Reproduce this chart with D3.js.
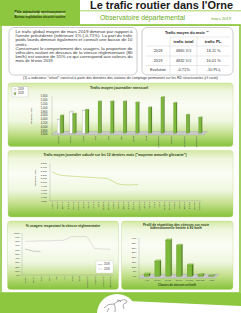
<!DOCTYPE html>
<html>
<head>
<meta charset="utf-8">
<script src="https://cdn.jsdelivr.net/npm/d3@7"></script>
<style>html,body{margin:0;padding:0;background:#fff;overflow:hidden}</style>
</head>
<body>
<div id="page"></div>
<script>
// data
let months = ["janvier", "février", "mars", "avril", "mai", "juin", "juillet", "août", "septembre", "octobre", "novembre", "décembre"];
let trafic2018 = [4563, 4652, 4865, 5300, 5300, 5300, 5250, 4990, 5530, 5230, 4600, 4460];
let trafic2019 = [4352, 4757, 4832];
let traficTicks = [3600, 3800, 4000, 4200, 4400, 4600, 4800, 5000, 5200, 5400, 5600];

let glisMonths = ["oct-17", "nov-17", "déc-17", "janv-18", "févr-18", "mars-18", "avr-18", "mai-18", "juin-18", "juil-18",
                  "août-18", "sept-18", "oct-18", "nov-18", "déc-18", "janv-19", "févr-19", "mars-19", "avr-19", "mai-19",
                  "juin-19", "juil-19", "août-19", "sept-19", "oct-19", "nov-19", "déc-19", "janv-20", "févr-20", "mars-20"];
let glisValues = [5265, 5200, 5170, 5160, 5150, 5140, 5130, 5125, 5115, 5105, 5100, 5090, 5015, 4945, 4925, 4920, 4920, 4935];
let glisTicks = [4500, 4600, 4700, 4800, 4900, 5000, 5100, 5200, 5300, 5400, 5500];

let respect2018 = [79, 79, 80, 80, 81, 81, 90, 90, 90, 62, 61, 60];
let respect2019 = [61, 56, 55];
let respectTicks = [0, 10, 20, 30, 40, 50, 60, 70, 80, 90, 100];

let speedClasses = ["< 60", "60-70", "70-80", "80-90", "90-100", "100-110", "> 110"];
let speedShares = [2, 15.5, 37.5, 32, 11.5, 1.3, 0.2];
let speedTicks = [0, 5, 10, 15, 20, 25, 30, 35, 40];

let introLines = [
  "Le trafic global moyen de mars 2019 diminue par rapport à",
  "l'année précédente (inférieure 1% (-0,71%). La part du trafic",
  "poids lourds diminue également et connaît une baisse de 10",
  "unités.",
  "Concernant le comportement des usagers, la proportion de",
  "véhicules roulant en dessous de la vitesse réglementaire (80",
  "km/h) est voisine de 55% ce qui correspond aux valeurs du",
  "mois de février 2019."
];
let tableHead = ["trafic total", "trafic PL."];
let tableRows = [["2018", "4865 V/J", "16,11 %"], ["2019", "4832 V/J", "16,01 %"], ["Evolution", "-0,71%", "-10 PL/j"]];

let font = "'Liberation Sans', Arial, sans-serif";
let green = "#8dc63f";
let darkText = "#2a4410";
let barGreen = "#7cb83a", barSide = "#4f7f1e", barTop = "#aad66c";

let svg = d3.select("#page").append("svg")
  .attr("width", 241).attr("height", 313)
  .attr("viewBox", "0 0 241 313")
  .attr("font-family", font);

let defs = svg.append("defs");
let grad = defs.append("linearGradient").attr("id", "panelGrad")
  .attr("x1", 0).attr("y1", 0).attr("x2", 0).attr("y2", 1);
[[0, "#d3e8a2"], [0.12, "#eef6dc"], [0.35, "#fbfdf6"], [0.6, "#f0f7e0"], [0.8, "#c2df8a"], [1, "#86c23a"]]
  .forEach(s => grad.append("stop").attr("offset", s[0]).attr("stop-color", s[1]));

// ---------- header ----------
svg.append("rect").attr("x", 0).attr("y", 0).attr("width", 80).attr("height", 25).attr("fill", green);
let hdr = [["Pôle attractivité environnement", "#1c3308", 12.5], ["Service gestion du réseau routier", "#ffffff", 15.3], ["Bureau exploitation sécurité routière", "#1c3308", 18.1]];
hdr.forEach(h => svg.append("text").attr("x", 40).attr("y", h[2]).attr("text-anchor", "middle")
  .attr("font-size", 3.2).attr("font-weight", h[1] == "#ffffff" ? "normal" : "bold").attr("fill", h[1])
  .attr("textLength", 51).attr("lengthAdjust", "spacingAndGlyphs").text(h[0]));

svg.append("text").attr("x", 90).attr("y", 9.3).attr("font-size", 11.5).attr("font-weight", "bold")
  .attr("fill", "#1a1a1a").attr("textLength", 143).attr("lengthAdjust", "spacingAndGlyphs")
  .text("Le trafic routier dans l'Orne");
svg.append("line").attr("x1", 80).attr("x2", 241).attr("y1", 10.8).attr("y2", 10.8).attr("stroke", green).attr("stroke-width", 0.8);
svg.append("text").attr("x", 100).attr("y", 20).attr("font-size", 6.6).attr("fill", "#6cab22")
  .attr("textLength", 85).attr("lengthAdjust", "spacingAndGlyphs").text("Observatoire départemental");
svg.append("text").attr("x", 231).attr("y", 19.5).attr("text-anchor", "end").attr("font-size", 4.2)
  .attr("fill", "#6cab22").text("mars 2019");
svg.append("line").attr("x1", 0).attr("x2", 241).attr("y1", 25.2).attr("y2", 25.2).attr("stroke", green).attr("stroke-width", 0.8);
svg.append("rect").attr("x", 1).attr("y", 25).attr("width", 239).attr("height", 268)
  .attr("fill", "none").attr("stroke", green).attr("stroke-width", 1.6);

// ---------- intro text ----------
svg.append("rect").attr("x", 9).attr("y", 27.5).attr("width", 128).attr("height", 47.5).attr("rx", 5)
  .attr("fill", "#fff").attr("stroke", "#9a9a9a").attr("stroke-width", 0.5);
svg.append("g").selectAll("text").data(introLines).join("text")
  .attr("x", 15.5).attr("y", (d, i) => 33.3 + i * 4.07)
  .attr("font-size", 4.1).attr("fill", "#333")
  .each(function(d) {
    if (d.length > 40) d3.select(this).attr("textLength", 117).attr("lengthAdjust", "spacingAndGlyphs");
  })
  .text(d => d);

// ---------- table ----------
svg.append("rect").attr("x", 142).attr("y", 27.5).attr("width", 91).attr("height", 47.5).attr("rx", 5)
  .attr("fill", "#fff").attr("stroke", "#9a9a9a").attr("stroke-width", 0.5);
let tt = svg.append("text").attr("x", 187).attr("y", 33.8).attr("text-anchor", "middle")
  .attr("font-size", 3.9).attr("font-weight", "bold").attr("fill", "#222");
tt.append("tspan").text("Trafic moyen du mois ");
tt.append("tspan").attr("font-size", 2.5).attr("dy", -1.4).text("(1)");

let colX = [146, 170, 197, 230];
let rowY = [37, 46, 56, 65.5, 74];
let grid = svg.append("g").attr("stroke", "#c4c4c4").attr("stroke-width", 0.4);
rowY.slice(1, 4).forEach(y => grid.append("line").attr("x1", colX[0]).attr("x2", colX[3]).attr("y1", y).attr("y2", y));
grid.append("line").attr("x1", colX[1]).attr("x2", colX[3]).attr("y1", rowY[0]).attr("y2", rowY[0]);
[colX[1], colX[2]].forEach(x => grid.append("line").attr("x1", x).attr("x2", x).attr("y1", rowY[0]).attr("y2", rowY[4]));

tableHead.forEach((h, i) => svg.append("text").attr("x", (colX[i + 1] + colX[i + 2]) / 2).attr("y", 42.8)
  .attr("text-anchor", "middle").attr("font-size", 4.1).attr("font-weight", "bold").attr("fill", "#222").text(h));
tableRows.forEach((r, j) => r.forEach((c, i) => svg.append("text")
  .attr("x", (colX[i] + colX[i + 1]) / 2).attr("y", (rowY[j + 1] + rowY[j + 2]) / 2 + 1.4)
  .attr("text-anchor", "middle").attr("font-size", 3.9).attr("fill", "#333").text(c)));

svg.append("text").attr("x", 120.5).attr("y", 79.4).attr("text-anchor", "middle").attr("font-size", 3)
  .attr("fill", "#333").attr("textLength", 195).attr("lengthAdjust", "spacingAndGlyphs")
  .text("(1) = indicateur \"virtuel\" construit à partir des données des stations de comptage permanent sur les RD structurantes (cf carte)");

// ---------- helpers ----------
function panel(x, y, w, h) {
  svg.append("rect").attr("x", x).attr("y", y).attr("width", w).attr("height", h).attr("rx", 3)
    .attr("fill", "url(#panelGrad)").attr("stroke", "#b7d884").attr("stroke-width", 0.4);
}
function title(x, y, t, size) {
  svg.append("text").attr("x", x).attr("y", y).attr("text-anchor", "middle").attr("font-size", size)
    .attr("font-weight", "bold").attr("fill", darkText).text(t);
}
function bar3d(g, x, y, w, h, d, fill, side, top, stroke) {
  g.append("polygon").attr("points", [[x + w, y], [x + w + d, y - d], [x + w + d, y + h - d], [x + w, y + h]].join(" "))
    .attr("fill", side).attr("stroke", stroke).attr("stroke-width", 0.2);
  g.append("polygon").attr("points", [[x, y], [x + d, y - d], [x + w + d, y - d], [x + w, y]].join(" "))
    .attr("fill", top).attr("stroke", stroke).attr("stroke-width", 0.2);
  g.append("rect").attr("x", x).attr("y", y).attr("width", w).attr("height", h)
    .attr("fill", fill).attr("stroke", stroke).attr("stroke-width", 0.2);
}
function styleAxis(ax, size) {
  ax.attr("font-size", size).attr("font-family", font);
  ax.select(".domain").attr("stroke", "#8a8a8a").attr("stroke-width", 0.3);
  ax.selectAll("text").attr("fill", "#333");
}

// ---------- chart 1 : monthly bars ----------
panel(8, 83, 225, 63.5);
title(119, 88.6, "Trafic moyen journalier mensuel", 3.8);

let x1 = d3.scaleBand().domain(months).range([54, 205]);
let y1 = d3.scaleLinear().domain([traficTicks[0], traficTicks[traficTicks.length - 1]]).range([134, 96]);

let g1 = svg.append("g");
g1.append("polygon").attr("points", [[51.5, 135], [204, 135], [207.5, 131.5], [55, 131.5]].join(" "))
  .attr("fill", "#c9c9c9").attr("stroke", "#9a9a9a").attr("stroke-width", 0.3);

let ax1 = svg.append("g").attr("transform", "translate(51.5,0)")
  .call(d3.axisLeft(y1).tickValues(traficTicks).tickSize(0).tickPadding(4));
styleAxis(ax1, 2.7);

months.forEach((m, i) => {
  let c = x1(m) + x1.bandwidth() / 2;
  if (i < trafic2019.length) {
    bar3d(g1, c - 3, y1(trafic2019[i]), 2.6, 133.2 - y1(trafic2019[i]), 0.9, "#ffffff", "#e2e2e2", "#f4f4f4", "#8a8a8a");
  }
  bar3d(g1, c, y1(trafic2018[i]), 2.6, 133.2 - y1(trafic2018[i]), 0.9, barGreen, barSide, barTop, "#4a7a18");
});

let xa1 = svg.append("g").attr("transform", "translate(-2.5,136)")
  .call(d3.axisBottom(x1).tickSize(0).tickPadding(0));
styleAxis(xa1, 2.5);
xa1.select(".domain").remove();
xa1.selectAll("text").attr("transform", "rotate(-90)").attr("text-anchor", "end")
  .attr("x", 0).attr("y", 0).attr("dy", "0.35em");

svg.append("text").attr("transform", "translate(31.5,116) rotate(-90)").attr("text-anchor", "middle")
  .attr("font-size", 2.5).attr("fill", "#333").text("véhicules / jour");

let lg1 = svg.append("g");
lg1.append("rect").attr("x", 12).attr("y", 86.8).attr("width", 16).attr("height", 10.2)
  .attr("fill", "#fff").attr("stroke", "#b0b0b0").attr("stroke-width", 0.3);
[["2019", "#ffffff"], ["2018", barGreen]].forEach((l, i) => {
  lg1.append("rect").attr("x", 14).attr("y", 88.6 + i * 4).attr("width", 2).attr("height", 2)
    .attr("fill", l[1]).attr("stroke", "#777").attr("stroke-width", 0.2);
  lg1.append("text").attr("x", 18).attr("y", 90.4 + i * 4).attr("font-size", 2.6).attr("fill", "#333").text(l[0]);
});

// ---------- chart 2 : rolling annual mean ----------
panel(8, 150.5, 225, 66.5);
title(115, 155.6, "Trafic moyen journalier calculé sur les 12 derniers mois (\"moyenne annuelle glissante\")", 3.45);

let x2 = d3.scalePoint().domain(glisMonths).range([52, 199]);
let y2 = d3.scaleLinear().domain([glisTicks[0], glisTicks[glisTicks.length - 1]]).range([200.7, 163]);

let ax2 = svg.append("g").attr("transform", "translate(49.5,0)")
  .call(d3.axisLeft(y2).tickValues(glisTicks).tickSize(0).tickPadding(2.5));
styleAxis(ax2, 2.5);
svg.append("line").attr("x1", 49.5).attr("x2", 201).attr("y1", 200.7).attr("y2", 200.7)
  .attr("stroke", "#8a8a8a").attr("stroke-width", 0.3);

let xa2 = svg.append("g").attr("transform", "translate(0,202)")
  .call(d3.axisBottom(x2).tickSize(0).tickPadding(0));
styleAxis(xa2, 2.4);
xa2.select(".domain").remove();
xa2.selectAll("text").attr("transform", "rotate(-90)").attr("text-anchor", "end")
  .attr("x", 0).attr("y", 0).attr("dy", "0.35em");

svg.append("path").datum(glisValues)
  .attr("d", d3.line().x((d, i) => x2(glisMonths[i])).y(d => y2(d)))
  .attr("fill", "none").attr("stroke", "#b6d45e").attr("stroke-width", 0.6);

svg.append("text").attr("transform", "translate(35.5,178) rotate(-90)").attr("text-anchor", "middle")
  .attr("font-size", 2.5).attr("fill", "#333").text("véhicules / jour");

// ---------- chart 3 : % respecting speed limit ----------
panel(7.5, 221, 111, 68.5);
title(63, 226.6, "% usagers respectant la vitesse réglementaire", 3.4);

let x3 = d3.scalePoint().domain(months).range([25, 110]);
let y3 = d3.scaleLinear().domain([0, 100]).range([275, 232.3]);

let ax3 = svg.append("g").attr("transform", "translate(21.5,0)")
  .call(d3.axisLeft(y3).tickValues(respectTicks).tickFormat(d => d + "%").tickSize(0).tickPadding(1.5));
styleAxis(ax3, 2.4);
svg.append("line").attr("x1", 21.5).attr("x2", 113).attr("y1", 275).attr("y2", 275)
  .attr("stroke", "#8a8a8a").attr("stroke-width", 0.3);

let xa3 = svg.append("g").attr("transform", "translate(0,276.5)")
  .call(d3.axisBottom(x3).tickSize(0).tickPadding(0));
styleAxis(xa3, 2.4);
xa3.select(".domain").remove();
xa3.selectAll("text").attr("transform", "rotate(-90)").attr("text-anchor", "end")
  .attr("x", 0).attr("y", 0).attr("dy", "0.35em");

let line3 = d3.line().x((d, i) => x3(months[i])).y(d => y3(d));
svg.append("path").datum(respect2018).attr("d", line3).attr("fill", "none")
  .attr("stroke", "#cfc6c6").attr("stroke-width", 0.55);
svg.append("path").datum(respect2019).attr("d", line3).attr("fill", "none")
  .attr("stroke", "#a4a4a4").attr("stroke-width", 0.55);

let lg3 = svg.append("g");
lg3.append("rect").attr("x", 96).attr("y", 261).attr("width", 17).attr("height", 12)
  .attr("fill", "#fff").attr("stroke", "#c0c0c0").attr("stroke-width", 0.3);
[["2019", "#a4a4a4"], ["2018", "#cfc6c6"]].forEach((l, i) => {
  lg3.append("line").attr("x1", 98).attr("x2", 102.5).attr("y1", 264.5 + i * 4.5).attr("y2", 264.5 + i * 4.5)
    .attr("stroke", l[1]).attr("stroke-width", 0.6);
  lg3.append("text").attr("x", 104).attr("y", 265.4 + i * 4.5).attr("font-size", 2.6).attr("fill", "#333").text(l[0]);
});

// ---------- chart 4 : speed distribution ----------
panel(121.5, 221, 111.5, 68.5);
title(176, 225.8, "Profil de répartition des vitesses sur route", 3.3);
title(176, 229.4, "bidirectionnelle limitée à 80 km/h", 3.3);

let x4 = d3.scaleBand().domain(speedClasses).range([141.3, 216.3]).paddingInner(0.55).paddingOuter(0.25);
let y4 = d3.scaleLinear().domain([0, 40]).range([276, 237.7]);

let ax4 = svg.append("g").attr("transform", "translate(138.5,0)")
  .call(d3.axisLeft(y4).tickValues(speedTicks).tickFormat(d => d + "%").tickSize(0).tickPadding(2));
styleAxis(ax4, 2.4);

let g4 = svg.append("g");
g4.append("polygon").attr("points", [[138.5, 278.3], [215, 278.3], [219, 274.3], [142.5, 274.3]].join(" "))
  .attr("fill", "#c9c9c9").attr("stroke", "#9a9a9a").attr("stroke-width", 0.3);
speedClasses.forEach((c, i) => {
  let h = Math.max(276.5 - y4(speedShares[i]), 0.3);
  bar3d(g4, x4(c), 276.5 - h, x4.bandwidth(), h, 1.3, barGreen, barSide, barTop, "#4a7a18");
});

let xa4 = svg.append("g").attr("transform", "translate(0,279)")
  .call(d3.axisBottom(x4).tickSize(0).tickPadding(0));
styleAxis(xa4, 2.3);
xa4.select(".domain").remove();
xa4.selectAll("text").attr("dy", "0.9em");

title(177, 285.6, "Classes de vitesses en km/h", 2.8);

// ---------- footer ----------
svg.append("rect").attr("x", 0).attr("y", 293).attr("width", 241).attr("height", 20).attr("fill", green);
svg.append("path").attr("d", "M117,300.5 L241,306 L241,313 L117,313 Z").attr("fill", "#fff");
svg.append("circle").attr("cx", 117).attr("cy", 314).attr("r", 20).attr("fill", "#fff");
svg.append("path")
  .attr("d", "M104,308 q4,-5 10,-4 q3,-3 8,-4 q3,-1 5,1 l-1,2 q-2,0 -3,2 l1,4 M109,308 l-2,4 M114,304 q2,3 1,8 M121,302 q-1,-2 -4,-2")
  .attr("fill", "none").attr("stroke", "#555").attr("stroke-width", 0.5);
</script>
</body>
</html>
